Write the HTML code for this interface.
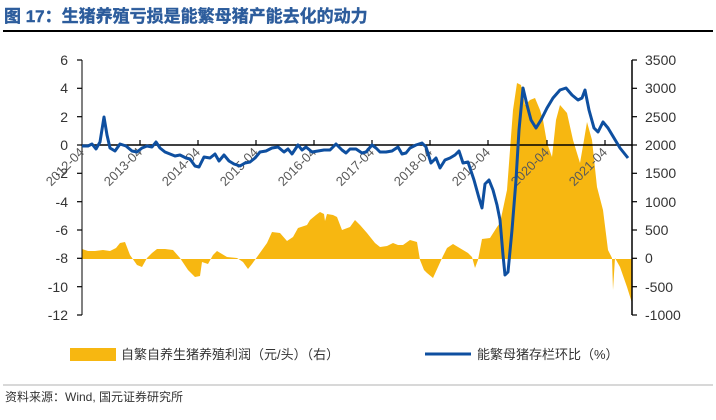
<!DOCTYPE html>
<html><head><meta charset="utf-8"><style>
body{margin:0;background:#fff;width:716px;height:415px;overflow:hidden;font-family:"Liberation Sans","Noto Sans CJK SC",sans-serif}
</style></head><body>
<svg width="716" height="415" xmlns="http://www.w3.org/2000/svg" font-family="Liberation Sans, Noto Sans CJK SC, sans-serif">
<text x="4" y="22" font-size="17" font-weight="bold" fill="#2c5c9c" stroke="#2c5c9c" stroke-width="0.4">图 17：生猪养殖亏损是能繁母猪产能去化的动力</text>
<rect x="3" y="30" width="710" height="2" fill="#000"/>
<!-- bars -->
<polygon fill="#f7b711" points="82,259 82,249 88,251 95,251 103,250 110,251 116,248 120,243 125,242 130,255 137,265 142,267 147,258 152,253 157,249 165,249 173,250 180,258 188,270 195,277 200,276 202,262 208,264 213,255 217,251 222,254 227,257 237,258 243,262 248,269 252,264 257,257 262,250 267,243 272,232 280,233 287,241 293,237 298,228 307,225 310,220 316,215 320,212 324,214 325,221 327,214 333,215 337,217 342,230 350,227 355,220 360,225 367,233 375,243 380,247 387,246 393,243 398,245 403,245 410,240 417,242 420,260 424,270 427,273 433,278 438,267 443,256 447,248 453,244 458,247 463,250 468,253 472,257 475,268 478,260 482,239 490,238 497,227 500,223 507,190 513,110 517,83 521,85 525,105 530,100 535,98 540,110 543,120 547,143 552,157 556,120 560,105 567,113 573,140 580,163 584,140 587,122 592,140 597,187 603,210 608,250 612,258 613,290 615,258 620,267 627,287 632,303 632,259"/>
<!-- axes -->
<line x1="82" y1="60" x2="82" y2="315" stroke="#000" stroke-width="1"/>
<line x1="632" y1="60" x2="632" y2="315" stroke="#000" stroke-width="1.5"/>
<line x1="82" y1="145" x2="632" y2="145" stroke="#000" stroke-width="1.5"/>
<g stroke="#000" stroke-width="1.2">
<line x1="77" y1="60" x2="82" y2="60"/><line x1="77" y1="88.3" x2="82" y2="88.3"/><line x1="77" y1="116.7" x2="82" y2="116.7"/><line x1="77" y1="145" x2="82" y2="145"/><line x1="77" y1="173.3" x2="82" y2="173.3"/><line x1="77" y1="201.7" x2="82" y2="201.7"/><line x1="77" y1="230" x2="82" y2="230"/><line x1="77" y1="258.3" x2="82" y2="258.3"/><line x1="77" y1="286.7" x2="82" y2="286.7"/><line x1="77" y1="315" x2="82" y2="315"/>
<line x1="632" y1="60" x2="637" y2="60"/><line x1="632" y1="88.3" x2="637" y2="88.3"/><line x1="632" y1="116.7" x2="637" y2="116.7"/><line x1="632" y1="145" x2="637" y2="145"/><line x1="632" y1="173.3" x2="637" y2="173.3"/><line x1="632" y1="201.7" x2="637" y2="201.7"/><line x1="632" y1="230" x2="637" y2="230"/><line x1="632" y1="258.3" x2="637" y2="258.3"/><line x1="632" y1="286.7" x2="637" y2="286.7"/><line x1="632" y1="315" x2="637" y2="315"/>
<line x1="140" y1="140" x2="140" y2="145"/><line x1="198" y1="140" x2="198" y2="145"/><line x1="256" y1="140" x2="256" y2="145"/><line x1="314" y1="140" x2="314" y2="145"/><line x1="372" y1="140" x2="372" y2="145"/><line x1="430" y1="140" x2="430" y2="145"/><line x1="488" y1="140" x2="488" y2="145"/><line x1="547" y1="140" x2="547" y2="145"/><line x1="605" y1="140" x2="605" y2="145"/>
</g>
<g font-size="14" fill="#333" text-anchor="end">
<text x="68" y="65">6</text><text x="68" y="93">4</text><text x="68" y="122">2</text><text x="68" y="150">0</text><text x="68" y="178">-2</text><text x="68" y="207">-4</text><text x="68" y="235">-6</text><text x="68" y="263">-8</text><text x="68" y="292">-10</text><text x="68" y="320">-12</text>
</g>
<g font-size="14" fill="#333">
<text x="645" y="65">3500</text><text x="645" y="93">3000</text><text x="645" y="122">2500</text><text x="645" y="150">2000</text><text x="645" y="178">1500</text><text x="645" y="207">1000</text><text x="645" y="235">500</text><text x="645" y="263">0</text><text x="645" y="292">-500</text><text x="645" y="320">-1000</text>
</g>
<g font-size="13" fill="#595959" text-anchor="end">
<text transform="translate(85,153) rotate(-45)">2012-04</text>
<text transform="translate(143,153) rotate(-45)">2013-04</text>
<text transform="translate(201,153) rotate(-45)">2014-04</text>
<text transform="translate(259,153) rotate(-45)">2015-04</text>
<text transform="translate(317,153) rotate(-45)">2016-04</text>
<text transform="translate(375,153) rotate(-45)">2017-04</text>
<text transform="translate(433,153) rotate(-45)">2018-04</text>
<text transform="translate(491,153) rotate(-45)">2019-04</text>
<text transform="translate(550,153) rotate(-45)">2020-04</text>
<text transform="translate(608,153) rotate(-45)">2021-04</text>
</g>
<!-- line -->
<polyline fill="none" stroke="#0e4fa0" stroke-width="3" stroke-linejoin="round" points="82,146 88,146 92,144 96,149 100,142 104,117 107,135 110,148 115,151 120,144 126,146 132,151 137,152 142,148 147,146 152,147 156,142 160,148 165,152 170,154 175,156 180,155 186,158 190,159 195,166 199,167 204,157 210,158 215,154 219,161 224,155 229,161 234,164 240,166 245,163 250,162 255,158 260,152 266,151 272,148 278,147 284,152 288,149 292,154 298,145 302,150 306,147 312,152 318,151 324,150 330,150 336,144 342,150 346,153 350,149 356,149 362,153 366,152 372,145 376,148 380,152 386,152 392,151 398,147 402,154 406,153 410,148 416,145 422,143 426,147 431,163 436,158 440,168 445,160 450,158 455,155 459,151 463,163 468,162 474,180 479,198 482,208 485,184 489,180 493,190 497,205 500,220 503,255 505,275 508,272 512,230 516,180 519,130 523,88 527,105 531,120 536,128 541,120 547,108 553,98 560,90 566,88 572,95 578,100 582,98 585,90 589,110 594,128 598,132 603,122 608,128 614,138 620,148 628,158"/>
<!-- legend -->
<rect x="70" y="348" width="46" height="13" fill="#f7b711"/>
<text x="121" y="359" font-size="13" fill="#333">自繁自养生猪养殖利润（元/头）（右）</text>
<line x1="425" y1="354" x2="471" y2="354" stroke="#0e4fa0" stroke-width="3"/>
<text x="477" y="359" font-size="13" fill="#333">能繁母猪存栏环比（%）</text>
<line x1="3" y1="385" x2="713" y2="385" stroke="#999" stroke-width="0.8"/>
<text x="5" y="401" font-size="12" fill="#333">资料来源：Wind, 国元证券研究所</text>
</svg>
</body></html>
